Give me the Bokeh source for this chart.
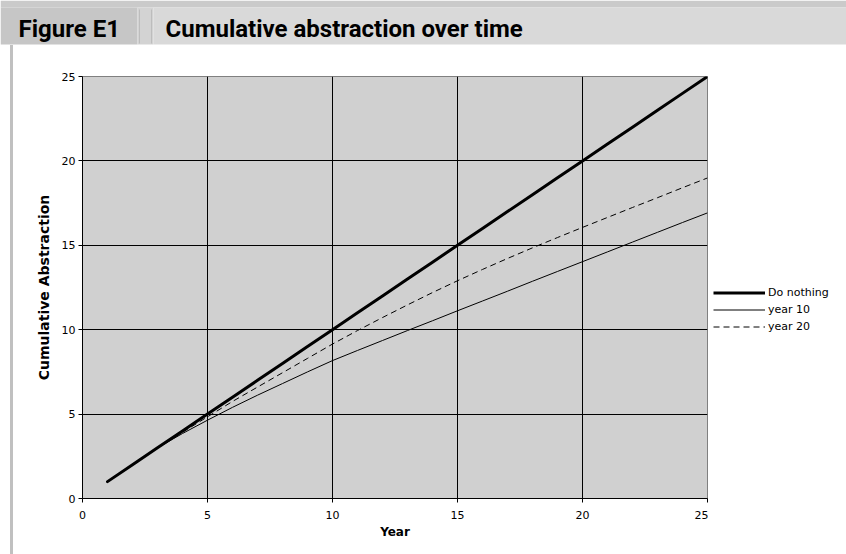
from bokeh.plotting import figure
from bokeh.models import Range1d, Legend, LegendItem, FixedTicker, Spacer
from bokeh.layouts import column, row
from bokeh.core.properties import value
from bokeh.embed import file_html
from bokeh.resources import INLINE

# ---- data ----
fig_label = "Figure E1"
fig_title = "Cumulative abstraction over time"
x_label = "Year"
y_label = "Cumulative Abstraction"
years = list(range(1, 26))
do_nothing = [1, 2, 3, 4, 5, 6, 7, 8, 9, 10, 11, 12, 13, 14, 15, 16, 17, 18, 19, 20, 21, 22, 23, 24, 25]
year_10 = [1, 2, 3, 3.85, 4.64, 5.4, 6.12, 6.81, 7.5, 8.17, 8.77, 9.36, 9.95, 10.53, 11.12,
           11.7, 12.28, 12.87, 13.45, 14.03, 14.61, 15.19, 15.77, 16.35, 16.92]
year_20 = [1, 2, 3, 3.92, 4.84, 5.75, 6.6, 7.45, 8.3, 9.15, 9.95, 10.72, 11.47, 12.2, 12.9,
           13.57, 14.22, 14.85, 15.46, 16.06, 16.65, 17.24, 17.82, 18.41, 18.99]
series_names = ["Do nothing", "year 10", "year 20"]
ticks = [0, 5, 10, 15, 20, 25]

HEAD_FONT = "Roboto"
BODY_FONT = "DejaVu Sans"

# ---- header ----
W = 846
HH = 45
h = figure(width=W, height=HH, x_range=Range1d(0, W), y_range=Range1d(HH, 0),
           output_backend="svg", toolbar_location=None, min_border=0)
h.axis.visible = False
h.grid.visible = False
h.outline_line_color = None
h.background_fill_color = "white"
h.border_fill_color = "white"
h.quad(left=[0], right=[W], top=[0], bottom=[7], fill_color="#cacaca", line_color=None)
h.quad(left=[0], right=[137], top=[7], bottom=[44], fill_color="#c6c6c6", line_color=None)
h.quad(left=[137], right=[153], top=[7], bottom=[44], fill_color="#d3d3d3", line_color=None)
h.quad(left=[153], right=[W], top=[7], bottom=[44], fill_color="#d9d9d9", line_color=None)
h.segment(x0=[139, 151], y0=[9, 9], x1=[139, 151], y1=[43, 43], line_color="#bdbdbd", line_width=1)
h.text(x=[18], y=[28], text=[fig_label], text_font=value(HEAD_FONT), text_font_style="bold",
       text_font_size="24px", text_baseline="middle", text_color="black")
h.text(x=[165], y=[28], text=[fig_title], text_font=value(HEAD_FONT), text_font_style="bold",
       text_font_size="24px", text_baseline="middle", text_color="black")

# ---- main chart ----
MH = 554 - HH
PW = 695          # main figure width (frame 625 wide, ends at page x 707)
LW = W - 13 - PW  # legend strip width
p = figure(width=PW, height=MH, x_range=Range1d(0, 25), y_range=Range1d(0, 25),
           output_backend="svg", toolbar_location=None,
           min_border_left=69, min_border_right=1, min_border_top=31,
           min_border_bottom=MH - 31 - 422)
p.background_fill_color = "#d0d0d0"
p.border_fill_color = "white"
p.outline_line_color = "#808080"
p.outline_line_width = 1

for ax in (p.xaxis[0], p.yaxis[0]):
    ax.ticker = FixedTicker(ticks=ticks)
    ax.minor_tick_line_color = None
    ax.major_tick_in = 0
    ax.major_tick_out = 4
    ax.axis_line_color = "black"
    ax.major_tick_line_color = "black"
    ax.major_label_text_font = BODY_FONT
    ax.major_label_text_font_size = "11px"
    ax.major_label_text_color = "black"
    ax.axis_label_text_font = BODY_FONT
    ax.axis_label_text_font_style = "bold"
    ax.axis_label_text_color = "black"
p.xaxis.axis_label = x_label
p.yaxis.axis_label = y_label
p.xaxis.axis_label_text_font_size = "12px"
p.yaxis.axis_label_text_font_size = "14px"
p.xaxis.major_label_standoff = 8
p.xaxis.axis_label_standoff = 3
p.yaxis.major_label_standoff = 3
p.yaxis.axis_label_standoff = 7

p.xgrid.ticker = FixedTicker(ticks=ticks)
p.ygrid.ticker = FixedTicker(ticks=ticks)
p.grid.grid_line_color = "black"
p.grid.grid_line_width = 1
p.grid.grid_line_alpha = 1

r1 = p.line(years, year_10, line_color="black", line_width=1)
r2 = p.line(years, year_20, line_color="black", line_width=1, line_dash="6 4")
r0 = p.line(years, do_nothing, line_color="black", line_width=3, line_cap="round")

# ---- legend strip (beside the plot area; its frame is aligned with the main frame) ----
lg = figure(width=LW, height=MH, x_range=Range1d(100, 101), y_range=Range1d(100, 101),
            output_backend="svg", toolbar_location=None, min_border=0)
lg.axis.visible = False
lg.grid.visible = False
lg.outline_line_color = None
lg.background_fill_color = "white"
lg.border_fill_color = "white"
# same series, kept out of this strip's view, only to key the legend
k0 = lg.line(years, do_nothing, line_color="black", line_width=3)
k1 = lg.line(years, year_10, line_color="black", line_width=1)
k2 = lg.line(years, year_20, line_color="black", line_width=1, line_dash="6 4")
legend = Legend(items=[LegendItem(label=series_names[0], renderers=[k0]),
                       LegendItem(label=series_names[1], renderers=[k1]),
                       LegendItem(label=series_names[2], renderers=[k2])],
                location=(5, 163), padding=0, margin=0, spacing=0,
                glyph_width=52, glyph_height=17, label_height=17, label_standoff=3,
                label_text_font=BODY_FONT, label_text_font_size="11px",
                label_text_color="black",
                border_line_color=None, background_fill_alpha=0)
lg.add_layout(legend, "center")

layout = column(h, row(Spacer(width=10, height=MH),
                       Spacer(width=3, height=MH, styles={"background-color": "#c0c0c0"}),
                       p, lg, spacing=0), spacing=0)

open("out.html", "w").write(file_html(layout, INLINE))
